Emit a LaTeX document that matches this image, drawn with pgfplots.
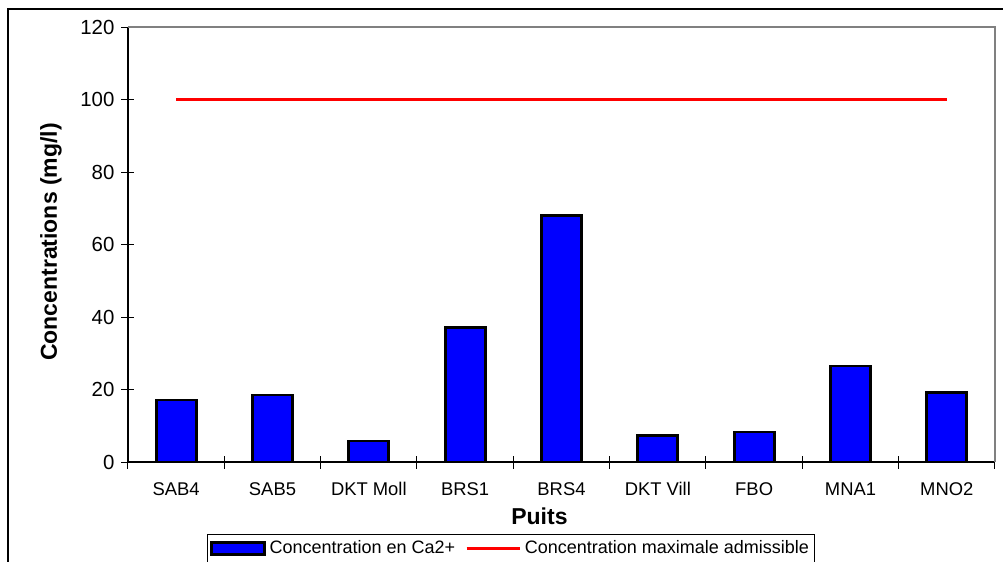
\documentclass[border=0pt]{standalone}
\usepackage{pgfplots}
\pgfplotsset{compat=1.18}
\usepackage{fontspec}
\setmainfont{Liberation Sans}
\definecolor{axgray}{RGB}{128,128,128}
\pgfplotsset{
  barlegend/.style={legend image code/.code={\draw[##1] (0pt,-3pt) rectangle (26.5pt,3pt);}},
  linelegend/.style={legend image code/.code={\draw[##1] (0pt,0pt) -- (26.5pt,0pt);}},
}
\begin{document}
\begin{tikzpicture}
\useasboundingbox (0pt,0pt) rectangle (501.5pt,-281pt);
\clip (0pt,0pt) rectangle (501.5pt,-281pt);
\draw[line width=0.6pt,black] (4pt,-4.5pt) rectangle (520pt,-300pt);
\begin{axis}[
  at={(64pt,-231pt)}, anchor=south west,
  scale only axis, width=433.5pt, height=217.5pt,
  xmin=-0.5, xmax=8.5, ymin=0, ymax=120,
  axis x line*=bottom, axis y line*=left,
  axis line style={-, black, line width=0.6pt},
  xtick={0,...,8},
  xticklabels={SAB4,SAB5,DKT Moll,BRS1,BRS4,DKT Vill,FBO,MNA1,MNO2},
  major x tick style={draw=none},
  minor xtick={-0.5,0.5,...,8.5},
  ytick={0,20,...,120},
  tick align=center,
  major tick length=6.5pt, minor tick length=6.5pt,
  tick style={black, line width=0.5pt},
  /pgf/number format/assume math mode=true,
  x tick label style={font=\fontsize{9.2}{11}\selectfont, yshift=-3.5pt},
  y tick label style={font=\fontsize{10.2}{12}\selectfont},
  xlabel={Puits}, ylabel={Concentrations (mg/l)},
  label style={font=\fontsize{11.5}{13.8}\selectfont\bfseries},
  xlabel style={at={(axis description cs:0.4746,-0.1448)}, anchor=base},
  ylabel style={at={(axis description cs:-0.0888,0.5057)}, anchor=center},
  legend columns=2,
  legend style={at={(axis description cs:0.0915,-0.1655)}, anchor=north west,
    draw=black, line width=0.5pt, font=\fontsize{9}{10.8}\selectfont,
    inner xsep=1pt, inner ysep=1pt,
    /tikz/every even column/.append style={column sep=3pt}},
  clip=false,
]
\draw[axgray, line width=1.1pt] (rel axis cs:0,1) -- (rel axis cs:1,1) -- (rel axis cs:1,0);
\addplot[ybar, bar width=20pt, fill=blue, draw=black, line width=1.4pt, barlegend]
  coordinates {(0,17.1) (1,18.5) (2,5.8) (3,37) (4,68.1) (5,7.4) (6,8.3) (7,26.5) (8,19.2)};
\addlegendentry{Concentration en Ca2+}
\addplot[red, line width=1.25pt, mark=none, linelegend]
  coordinates {(0,100) (8,100)};
\addlegendentry{Concentration maximale admissible}
\end{axis}
\end{tikzpicture}
\end{document}
